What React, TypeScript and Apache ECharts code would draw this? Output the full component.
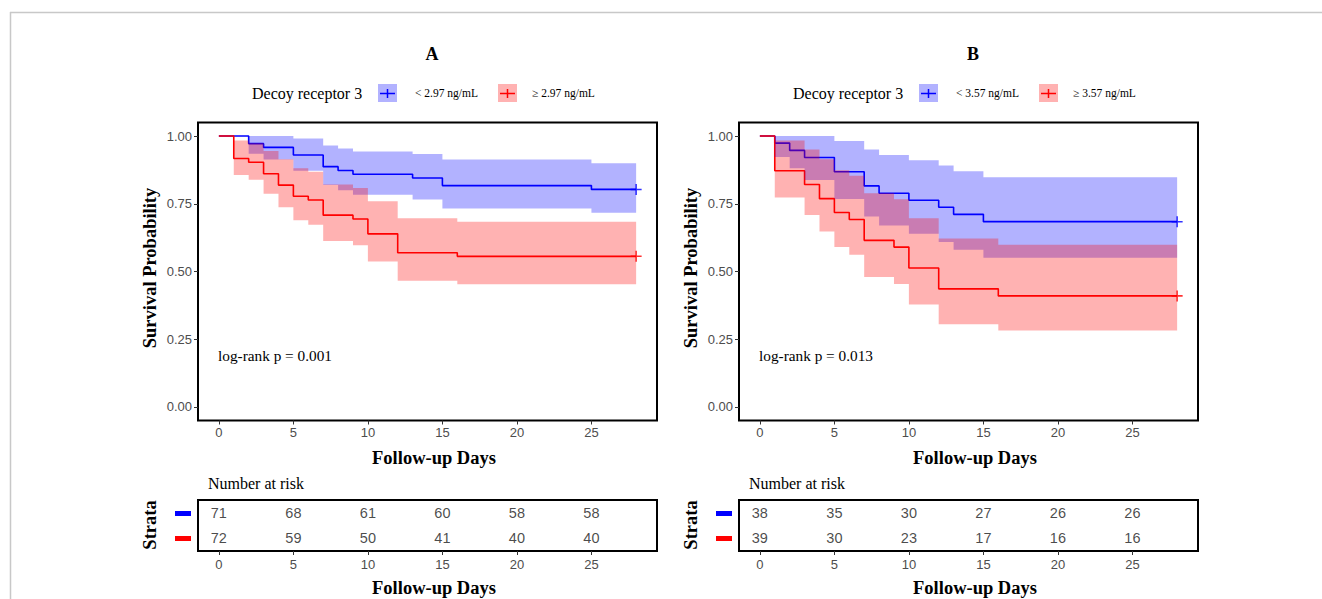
import React, { useEffect, useRef } from "react";
import * as echarts from "echarts";

// ---------- data ----------
const END_DAY = 28;
const xTicks = [0, 5, 10, 15, 20, 25];
const yTicks = [0, 0.25, 0.5, 0.75, 1];

// Panel A: Decoy receptor 3 < 2.97 ng/mL (blue)
const timesA_lo = [0, 2, 3, 5, 7, 8, 9, 13, 15, 25];
const survA_lo = [1, 0.972, 0.958, 0.93, 0.887, 0.873, 0.859, 0.845, 0.817, 0.803];
const upperA_lo = [1, 1, 1, 0.991, 0.965, 0.954, 0.943, 0.934, 0.913, 0.9];
const lowerA_lo = [1, 0.935, 0.913, 0.872, 0.819, 0.8, 0.783, 0.766, 0.733, 0.717];
// Panel A: >= 2.97 ng/mL (red)
const timesA_hi = [0, 1, 2, 3, 4, 5, 6, 7, 9, 10, 12, 16];
const survA_hi = [1, 0.917, 0.903, 0.861, 0.819, 0.778, 0.764, 0.708, 0.694, 0.639, 0.569, 0.556];
const upperA_hi = [1, 0.984, 0.973, 0.945, 0.914, 0.881, 0.868, 0.821, 0.808, 0.759, 0.697, 0.684];
const lowerA_hi = [1, 0.856, 0.839, 0.787, 0.737, 0.689, 0.673, 0.613, 0.597, 0.537, 0.466, 0.453];

// Panel B: < 3.57 ng/mL (blue)
const timesB_lo = [0, 1, 2, 3, 5, 7, 8, 10, 12, 13, 15];
const survB_lo = [1, 0.974, 0.947, 0.921, 0.868, 0.816, 0.789, 0.763, 0.737, 0.711, 0.684];
const upperB_lo = [1, 1, 1, 1, 0.982, 0.95, 0.93, 0.911, 0.891, 0.87, 0.848];
const lowerB_lo = [1, 0.923, 0.881, 0.838, 0.768, 0.703, 0.67, 0.639, 0.609, 0.58, 0.551];
// Panel B: >= 3.57 ng/mL (red)
const timesB_hi = [0, 1, 3, 4, 5, 6, 7, 9, 10, 12, 16];
const survB_hi = [1, 0.872, 0.821, 0.769, 0.718, 0.692, 0.615, 0.59, 0.513, 0.436, 0.41];
const upperB_hi = [1, 0.984, 0.95, 0.914, 0.874, 0.853, 0.789, 0.767, 0.697, 0.622, 0.599];
const lowerB_hi = [1, 0.773, 0.709, 0.648, 0.59, 0.562, 0.48, 0.454, 0.378, 0.305, 0.282];

// Number at risk
const riskTimes = [0, 5, 10, 15, 20, 25];
const riskA_lo = [71, 68, 61, 60, 58, 58];
const riskA_hi = [72, 59, 50, 41, 40, 40];
const riskB_lo = [38, 35, 30, 27, 26, 26];
const riskB_hi = [39, 30, 23, 17, 16, 16];

const panels = [
  { title: "A", cut: "2.97", p: "log-rank p = 0.001", lo: [timesA_lo, survA_lo, upperA_lo, lowerA_lo], hi: [timesA_hi, survA_hi, upperA_hi, lowerA_hi], rlo: riskA_lo, rhi: riskA_hi },
  { title: "B", cut: "3.57", p: "log-rank p = 0.013", lo: [timesB_lo, survB_lo, upperB_lo, lowerB_lo], hi: [timesB_hi, survB_hi, upperB_hi, lowerB_hi], rlo: riskB_lo, rhi: riskB_hi },
];

// ---------- styling ----------
const SERIF = '"Liberation Serif", "Times New Roman", serif';
const SANS = '"Liberation Sans", Arial, sans-serif';
const BLUE = "#0000ff";
const RED = "#ff0000";
const BLUE_FILL = "rgba(0,0,255,0.3)";
const RED_FILL = "rgba(255,0,0,0.3)";
const PANEL_DX = 541;
const PLOT_LEFT = 198;
const PLOT_W = 459;
const CROSS = "path://M4.3,0H5.7V4.3H10V5.7H5.7V10H4.3V5.7H0V4.3H4.3Z";

function stepLine(times: number[], surv: number[]) {
  const d = times.map((t, i) => [t, surv[i]]);
  d.push([END_DAY, surv[surv.length - 1]]);
  return d;
}

function bandSeries(idx: number, times: number[], upper: number[], lower: number[], fill: string) {
  return {
    type: "custom",
    xAxisIndex: idx,
    yAxisIndex: idx,
    silent: true,
    z: 3,
    data: [[times[0], upper[0]]],
    renderItem: (_params: any, api: any) => {
      const top: number[][] = [];
      const bot: number[][] = [];
      for (let i = 0; i < times.length; i++) {
        const t0 = times[i];
        const t1 = i + 1 < times.length ? times[i + 1] : END_DAY;
        top.push(api.coord([t0, upper[i]]), api.coord([t1, upper[i]]));
        bot.push(api.coord([t0, lower[i]]), api.coord([t1, lower[i]]));
      }
      return { type: "polygon", shape: { points: top.concat(bot.reverse()) }, style: { fill } };
    },
  };
}

function xAxisCfg(gridIndex: number, labelMargin: number) {
  return {
    type: "value",
    gridIndex,
    min: -1.4,
    max: 29.4,
    axisLine: { show: false, onZero: false },
    splitLine: { show: false },
    axisTick: { show: true, customValues: xTicks, length: 4, lineStyle: { color: "#333", width: 1 } },
    axisLabel: { customValues: xTicks, margin: labelMargin, fontSize: 13, color: "#4d4d4d", fontFamily: SANS },
  };
}

export default function App() {
  const ref = useRef<HTMLDivElement>(null);
  useEffect(() => {
    document.body.style.margin = "0";
    document.body.style.overflow = "hidden";
    if (!ref.current) return;
    const chart = echarts.init(ref.current, null, { renderer: "svg" });

    const grid: any[] = [];
    const xAxis: any[] = [];
    const yAxis: any[] = [];
    const series: any[] = [];
    const graphic: any[] = [];

    // frame of the original page
    graphic.push({ type: "line", shape: { x1: 10, y1: 12.5, x2: 1322, y2: 12.5 }, style: { stroke: "#c8c8c8", lineWidth: 1.5 } });
    graphic.push({ type: "line", shape: { x1: 10.5, y1: 12, x2: 10.5, y2: 599 }, style: { stroke: "#c8c8c8", lineWidth: 1.5 } });

    panels.forEach((pn, k) => {
      const dx = k * PANEL_DX;
      const gi = k; // survival plot grid
      const ri = k + 2; // risk table grid
      grid[gi] = { left: PLOT_LEFT + dx, top: 122.5, width: PLOT_W, height: 298, show: true, borderColor: "#000", borderWidth: 2, backgroundColor: "transparent" };
      grid[ri] = { left: PLOT_LEFT + dx, top: 500, width: PLOT_W, height: 51, show: true, borderColor: "#000", borderWidth: 2, backgroundColor: "transparent" };
      xAxis[gi] = xAxisCfg(gi, 5);
      xAxis[ri] = xAxisCfg(ri, 7);
      yAxis[gi] = {
        type: "value",
        gridIndex: gi,
        min: -0.05,
        max: 1.05,
        axisLine: { show: false, onZero: false },
        splitLine: { show: false },
        axisTick: { show: true, customValues: yTicks, length: 4, lineStyle: { color: "#333", width: 1 } },
        axisLabel: { customValues: yTicks, margin: 6, fontSize: 13, color: "#4d4d4d", fontFamily: SANS, formatter: (v: number) => v.toFixed(2) },
      };
      yAxis[ri] = {
        type: "category",
        gridIndex: ri,
        inverse: true,
        data: ["lo", "hi"],
        axisLine: { show: false, onZero: false },
        axisTick: { show: false },
        axisLabel: { show: false },
        splitLine: { show: false },
      };

      const [tl, sl, ul, ll] = pn.lo;
      const [th, sh, uh, lh] = pn.hi;
      series.push({ type: "line", name: "lo" + k, xAxisIndex: gi, yAxisIndex: gi, step: "end", data: stepLine(tl, sl), showSymbol: false, silent: true, z: 2, lineStyle: { color: BLUE, width: 1.6 } });
      series.push({ type: "line", name: "hi" + k, xAxisIndex: gi, yAxisIndex: gi, step: "end", data: stepLine(th, sh), showSymbol: false, silent: true, z: 2, lineStyle: { color: RED, width: 1.6 } });
      series.push(bandSeries(gi, tl, ul, ll, BLUE_FILL));
      series.push(bandSeries(gi, th, uh, lh, RED_FILL));
      series.push({ type: "scatter", xAxisIndex: gi, yAxisIndex: gi, silent: true, z: 4, symbol: CROSS, symbolSize: 11, itemStyle: { color: BLUE }, data: [[END_DAY, sl[sl.length - 1]]] });
      series.push({ type: "scatter", xAxisIndex: gi, yAxisIndex: gi, silent: true, z: 4, symbol: CROSS, symbolSize: 11, itemStyle: { color: RED }, data: [[END_DAY, sh[sh.length - 1]]] });

      const riskLabel = { show: true, position: "inside", formatter: (p: any) => String(p.value[2]), fontSize: 14.5, color: "#1a1a1a", fontFamily: SANS };
      series.push({ type: "scatter", xAxisIndex: ri, yAxisIndex: ri, silent: true, symbolSize: 1, itemStyle: { color: "rgba(0,0,0,0)" }, label: riskLabel, data: riskTimes.map((t, i) => [t, "lo", pn.rlo[i]]) });
      series.push({ type: "scatter", xAxisIndex: ri, yAxisIndex: ri, silent: true, symbolSize: 1, itemStyle: { color: "rgba(0,0,0,0)" }, label: riskLabel, data: riskTimes.map((t, i) => [t, "hi", pn.rhi[i]]) });

      // titles and texts
      graphic.push({ type: "text", x: 432 + dx, y: 54, style: { text: pn.title, font: `bold 18px ${SERIF}`, fill: "#000", textAlign: "center", textVerticalAlign: "middle" } });
      graphic.push({ type: "text", x: 252 + dx, y: 93, style: { text: "Decoy receptor 3", font: `16px ${SERIF}`, fill: "#000", textAlign: "left", textVerticalAlign: "middle" } });
      // legend keys
      const keys = [
        { x: 378, fill: BLUE_FILL, stroke: BLUE, label: "< " + pn.cut + " ng/mL", lx: 415 },
        { x: 498, fill: RED_FILL, stroke: RED, label: "\u2265 " + pn.cut + " ng/mL", lx: 532 },
      ];
      keys.forEach((kk) => {
        graphic.push({ type: "rect", shape: { x: kk.x + dx, y: 84, width: 19, height: 18 }, style: { fill: kk.fill } });
        graphic.push({ type: "line", shape: { x1: kk.x + dx + 2, y1: 93.5, x2: kk.x + dx + 17, y2: 93.5 }, style: { stroke: kk.stroke, lineWidth: 1.5 } });
        graphic.push({ type: "line", shape: { x1: kk.x + dx + 9.5, y1: 89, x2: kk.x + dx + 9.5, y2: 98 }, style: { stroke: kk.stroke, lineWidth: 1.5 } });
        graphic.push({ type: "text", x: kk.lx + dx, y: 93, style: { text: kk.label, font: `11.5px ${SERIF}`, fill: "#000", textAlign: "left", textVerticalAlign: "middle" } });
      });
      // axis titles
      graphic.push({ type: "text", x: 150 + dx, y: 268, rotation: Math.PI / 2, style: { text: "Survival Probability", font: `bold 18.5px ${SERIF}`, fill: "#000", textAlign: "center", textVerticalAlign: "middle" } });
      graphic.push({ type: "text", x: 434 + dx, y: 458, style: { text: "Follow-up Days", font: `bold 18.5px ${SERIF}`, fill: "#000", textAlign: "center", textVerticalAlign: "middle" } });
      graphic.push({ type: "text", x: 218 + dx, y: 355, style: { text: pn.p, font: `15.3px ${SERIF}`, fill: "#000", textAlign: "left", textVerticalAlign: "middle" } });
      // risk table texts
      graphic.push({ type: "text", x: 208 + dx, y: 483, style: { text: "Number at risk", font: `16px ${SERIF}`, fill: "#000", textAlign: "left", textVerticalAlign: "middle" } });
      graphic.push({ type: "text", x: 150 + dx, y: 525, rotation: Math.PI / 2, style: { text: "Strata", font: `bold 18.5px ${SERIF}`, fill: "#000", textAlign: "center", textVerticalAlign: "middle" } });
      graphic.push({ type: "rect", shape: { x: 175 + dx, y: 511, width: 16, height: 5 }, style: { fill: BLUE } });
      graphic.push({ type: "rect", shape: { x: 175 + dx, y: 536, width: 16, height: 5 }, style: { fill: RED } });
      graphic.push({ type: "text", x: 434 + dx, y: 588, style: { text: "Follow-up Days", font: `bold 18.5px ${SERIF}`, fill: "#000", textAlign: "center", textVerticalAlign: "middle" } });
    });

    chart.setOption({
      animation: false,
      backgroundColor: "#fff",
      grid,
      xAxis,
      yAxis,
      series,
      graphic,
    });
    return () => chart.dispose();
  }, []);
  return <div ref={ref} style={{ width: 1322, height: 599 }} />;
}
